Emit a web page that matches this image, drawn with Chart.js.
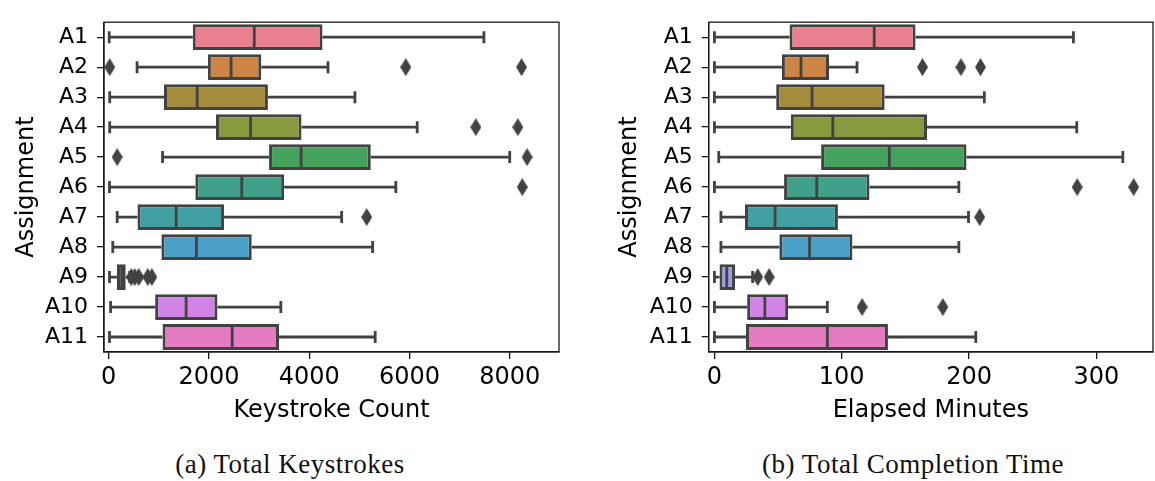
<!DOCTYPE html>
<html><head><meta charset="utf-8">
<script src="https://cdn.jsdelivr.net/npm/chart.js@4.4.0/dist/chart.umd.min.js"></script>
<style>
html,body{margin:0;padding:0;background:#fff;overflow:hidden;width:1155px;height:481px;}
.box{position:absolute;top:0;}
.cap{position:absolute;font-family:'Liberation Serif',serif;font-size:27px;color:#111;white-space:nowrap;transform:translateX(-50%);letter-spacing:0.5px;}
</style></head><body>
<div class="box" style="left:0;width:570px;height:430px"><canvas id="c1"></canvas></div>
<div class="box" style="left:600px;width:560px;height:430px"><canvas id="c2"></canvas></div>
<div class="cap" style="left:290px;top:449px">(a) Total Keystrokes</div>
<div class="cap" style="left:913px;top:449px">(b) Total Completion Time</div>
<script>
// ---- data ----
const assignments = ['A1','A2','A3','A4','A5','A6','A7','A8','A9','A10','A11'];

const keyLo  = [10, 566, 20, 20, 1074, 15, 169, 81, 15, 37, 15];
const keyQ1  = [1676, 1978, 1103, 2140, 3199, 1728, 574, 1051, 165, 926, 1074];
const keyMed = [2904, 2441, 1765, 2831, 3838, 2654, 1346, 1750, 259, 1544, 2463];
const keyQ3  = [4265, 3044, 3176, 3846, 5228, 3500, 2301, 2853, 339, 2169, 3397];
const keyHi  = [7485, 4375, 4912, 6154, 8000, 5728, 4647, 5265, 420, 3434, 5316];
const keyOutliers = [[], [20, 5926, 8235], [], [7324, 8162], [169, 8346], [8250], [5147], [], [450, 520, 600, 780, 860], [], []];
const keyTicks = [0, 2000, 4000, 6000, 8000];

const minLo  = [0, 0, 0, 0, 3.4, 0, 5.1, 5.1, 0, 0, 0];
const minQ1  = [59, 53, 48.5, 60, 83.8, 54.7, 24, 51, 4, 25.7, 24.8];
const minMed = [125.5, 68, 76.7, 93, 137.4, 80.4, 47.6, 74.7, 9.7, 39.6, 88.7];
const minQ3  = [158, 90, 133.7, 167, 198, 121.8, 97, 108.4, 16.2, 57.9, 136.3];
const minHi  = [282, 112, 212, 284.6, 320.8, 192, 199.6, 192, 30, 88.7, 205.3];
const minOutliers = [[], [163.4, 193.6, 209], [], [], [], [284.9, 329.3], [208.4], [], [34, 43], [116, 179.4], []];
const minTicks = [0, 100, 200, 300];

const boxColors = ['#e8808f','#cd8546','#a48c3e','#879b3e','#43a25b','#40a08a','#43a0a2','#4ba0c8','#9b9cec','#d184e6','#e37cc1'];
const lineColor = '#424242';
const axisColor = '#1a1a1a';

function diamond(w,h,color){
  const c=document.createElement('canvas');c.width=w;c.height=h;
  const g=c.getContext('2d');g.fillStyle=color;g.beginPath();
  g.moveTo(w/2,0);g.lineTo(w,h/2);g.lineTo(w/2,h);g.lineTo(0,h/2);g.closePath();g.fill();
  return c;
}
const diamondImg = diamond(11,18,lineColor);

const boxParts = {
  id:'boxParts',
  afterDatasetsDraw(chart, args, opts){
    const {ctx, scales:{x,y}} = chart;
    const s = opts.stats; if(!s) return;
    const band = Math.abs(y.getPixelForValue(1)-y.getPixelForValue(0));
    const px = v=>x.getPixelForValue(v);
    ctx.save();
    ctx.strokeStyle=lineColor; ctx.lineWidth=2.8; ctx.lineCap='butt';
    s.lo.forEach((lo,i)=>{
      const yc=y.getPixelForValue(i);
      const ch=band*0.2, bh=band*0.85/2-1;
      ctx.beginPath();
      ctx.moveTo(px(lo),yc); ctx.lineTo(px(s.q1[i]),yc);
      ctx.moveTo(px(s.q3[i]),yc); ctx.lineTo(px(s.hi[i]),yc);
      ctx.moveTo(px(lo),yc-ch); ctx.lineTo(px(lo),yc+ch);
      ctx.moveTo(px(s.hi[i]),yc-ch); ctx.lineTo(px(s.hi[i]),yc+ch);
      ctx.moveTo(px(s.med[i]),yc-bh); ctx.lineTo(px(s.med[i]),yc+bh);
      ctx.stroke();
    });
    ctx.restore();
  },
  afterDraw(chart){
    const {ctx, chartArea:a} = chart;
    ctx.save(); ctx.strokeStyle=axisColor; ctx.lineWidth=1.3;
    ctx.strokeRect(a.left, a.top, a.right-a.left, a.bottom-a.top);
    ctx.restore();
  }
};

function makeChart(id, cfg){
  const bars = cfg.q1.map((v,i)=>[v, cfg.q3[i]]);
  const pts = [];
  cfg.out.forEach((arr,i)=>arr.forEach(v=>pts.push({x:v, y:assignments[i]})));
  return new Chart(document.getElementById(id), {
    type:'bar',
    data:{
      labels:assignments,
      datasets:[
        {type:'bar', data:bars, backgroundColor:boxColors, borderColor:lineColor, borderWidth:3,
         borderSkipped:false, barPercentage:0.86, categoryPercentage:1},
        {type:'scatter', data:pts, pointStyle:diamondImg, pointRadius:6, showLine:false,
         backgroundColor:lineColor, borderColor:lineColor}
      ]
    },
    options:{
      indexAxis:'y', responsive:true, maintainAspectRatio:false, animation:false,
      layout:{padding:{top:12, right:cfg.padRight, left:0, bottom:0}},
      plugins:{legend:{display:false}, tooltip:{enabled:false}, boxParts:{stats:{lo:cfg.lo,q1:cfg.q1,med:cfg.med,q3:cfg.q3,hi:cfg.hi}}},
      scales:{
        x:{type:'linear', min:cfg.min, max:cfg.max,
           afterBuildTicks:s=>{s.ticks=cfg.ticks.map(v=>({value:v}));},
           grid:{drawOnChartArea:false, drawTicks:true, tickLength:7, color:axisColor, lineWidth:1.3},
           border:{display:true, color:axisColor, width:1.3},
           ticks:{font:{family:'DejaVu Sans', size:24}, color:'#000', padding:4, maxRotation:0, autoSkip:false,
                  callback:v=>String(v)},
           title:{display:true, text:cfg.xTitle, font:{family:'DejaVu Sans', size:24}, color:'#000', padding:{top:0,bottom:4.5}},
           afterFit:s=>{s.height=78;}},
        y:{type:'category', offset:true,
           grid:{offset:false, drawOnChartArea:false, drawTicks:true, tickLength:7, color:axisColor, lineWidth:1.3},
           border:{display:true, color:axisColor, width:1.3},
           ticks:{font:{family:'DejaVu Sans', size:22}, color:'#000', padding:9, autoSkip:false},
           title:{display:true, text:'Assignment', font:{family:'DejaVu Sans', size:24}, color:'#000', padding:{top:cfg.yTitlePad,bottom:0}},
           afterFit:s=>{s.width=cfg.yWidth;}}
      }
    },
    plugins:[boxParts]
  });
}

makeChart('c1', {lo:keyLo,q1:keyQ1,med:keyMed,q3:keyQ3,hi:keyHi,out:keyOutliers,ticks:keyTicks,
  min:-94, max:8983, padRight:11, yWidth:104, yTitlePad:12, xTitle:'Keystroke Count'});
makeChart('c2', {lo:minLo,q1:minQ1,med:minMed,q3:minQ3,hi:minHi,out:minOutliers,ticks:minTicks,
  min:-4.5, max:344.5, padRight:2, yWidth:108.7, yTitlePad:15, xTitle:'Elapsed Minutes'});
</script>
</body></html>
